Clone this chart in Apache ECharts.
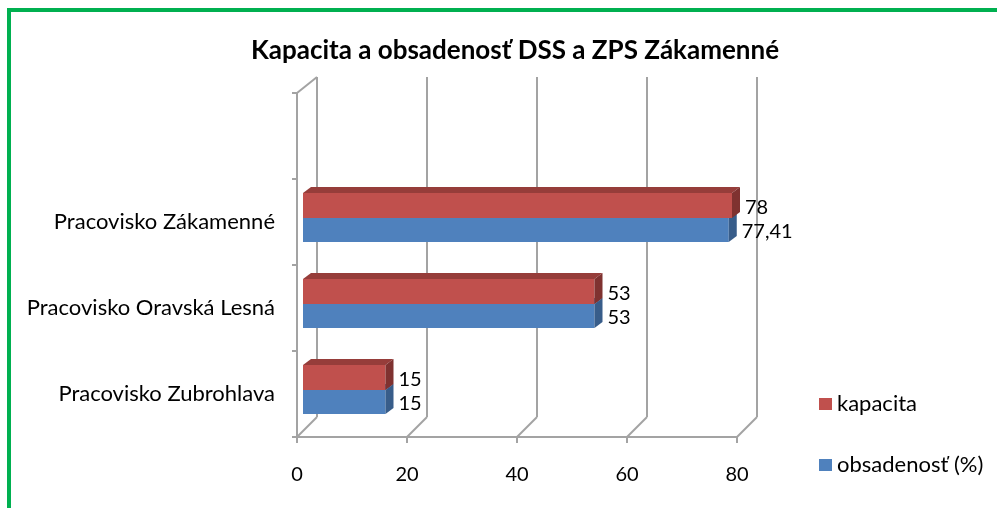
<!DOCTYPE html>
<html>
<head>
<meta charset="utf-8">
<title>Kapacita a obsadenosť</title>
<script src="https://cdn.jsdelivr.net/npm/echarts@6/dist/echarts.min.js"></script>
<style>
  html, body { margin: 0; padding: 0; background: #fff; }
  #chart { width: 997px; height: 508px; }
</style>
</head>
<body>
<div id="chart"></div>
<script>
// data (bottom to top)
var categories = ['Pracovisko Zubrohlava', 'Pracovisko Oravská Lesná', 'Pracovisko Zákamenné', ''];
var kapacita = [15, 53, 78];
var obsadenost = [15, 53, 77.41];
var xTicks = [0, 20, 40, 60, 80];

var FONT = 'Lato, "Noto Sans", sans-serif';
var GRID = '#a3a3a3';
var DEPTH_X = 20, DEPTH_FLOOR = 20, DEPTH_TOP = 16; // 3D back wall offset
var BAR_DX = 8, BAR_DY = 6;                          // bar depth
var BAR_SHIFT_X = 6, BAR_SHIFT_Y = -4;               // bars sit a bit inside the box

function fmt(v) { return String(v).replace('.', ','); }

function barRenderer(front, top, side, upper) {
    return function (params, api) {
        var idx = api.value(0);
        var val = api.value(1);
        var p0 = api.coord([0, idx]);
        var p1 = api.coord([val, idx]);
        var gc = p0[1] + BAR_SHIFT_Y;
        var y0 = upper ? gc - 25 : gc;
        var y1 = upper ? gc : gc + 24;
        var x0 = p0[0] + BAR_SHIFT_X;
        var x1 = p1[0] + BAR_SHIFT_X;
        return {
            type: 'group',
            children: [
                { type: 'polygon', shape: { points: [[x0, y0], [x1, y0], [x1 + BAR_DX, y0 - BAR_DY], [x0 + BAR_DX, y0 - BAR_DY]] }, style: { fill: top } },
                { type: 'rect', shape: { x: x0, y: y0, width: x1 - x0, height: y1 - y0 }, style: { fill: front } },
                { type: 'polygon', shape: { points: [[x1, y0], [x1 + BAR_DX, y0 - BAR_DY], [x1 + BAR_DX, y1 - BAR_DY], [x1, y1]] }, style: { fill: side } },
                { type: 'text', x: x1 + 13, y: (y0 + y1) / 2 + 2, style: { text: fmt(val), fill: '#000', font: '20px ' + FONT, align: 'left', verticalAlign: 'middle' } }
            ]
        };
    };
}

function toPairs(arr) { return arr.map(function (v, i) { return [i, v]; }); }

var myChart = echarts.init(document.getElementById('chart'));
myChart.setOption({
    animation: false,
    textStyle: { fontFamily: FONT },
    title: {
        text: 'Kapacita a obsadenosť DSS a ZPS Zákamenné',
        left: 510, top: 33, textAlign: 'center',
        textStyle: { fontFamily: FONT, fontWeight: 'bold', fontSize: 26, color: '#000' }
    },
    graphic: [{
        type: 'rect', silent: true, z: -10,
        shape: { x: 9, y: 10, width: 1200, height: 700 },
        style: { fill: 'none', stroke: '#00b050', lineWidth: 4 }
    }],
    legend: {
        data: ['kapacita', 'obsadenosť (%)'],
        orient: 'vertical', left: 814, top: 387,
        itemWidth: 13, itemHeight: 12, itemGap: 37, icon: 'rect',
        textStyle: { fontFamily: FONT, fontSize: 22, color: '#000', lineHeight: 24 }
    },
    grid: [
        { left: 297, right: 260, top: 93, bottom: 71 },
        { left: 317, right: 240, top: 77, bottom: 91 }
    ],
    xAxis: [
        {
            gridIndex: 0, type: 'value', min: 0, max: 80, interval: 20,
            axisLine: { show: true, lineStyle: { color: GRID, width: 2 } },
            axisTick: { show: true, length: 6, lineStyle: { color: GRID, width: 2 } },
            splitLine: { show: false },
            axisLabel: { margin: 28, fontSize: 20, color: '#000', fontFamily: FONT }
        },
        {
            gridIndex: 1, type: 'value', min: 0, max: 80, interval: 20,
            axisLine: { show: false }, axisTick: { show: false }, axisLabel: { show: false },
            splitLine: { show: true, lineStyle: { color: GRID, width: 2 } }
        }
    ],
    yAxis: [
        {
            gridIndex: 0, type: 'category', data: categories,
            axisLine: { show: true, lineStyle: { color: GRID, width: 2 } },
            axisTick: { show: true, length: 5, lineStyle: { color: GRID, width: 2 } },
            axisLabel: { margin: 22, fontSize: 22, color: '#000', fontFamily: FONT }
        },
        {
            gridIndex: 1, type: 'category', data: categories, show: false
        }
    ],
    series: [
        {
            // floor diagonals + top-left edge of the side wall
            type: 'custom', name: 'walls', xAxisIndex: 0, yAxisIndex: 0, silent: true, z: 1,
            data: xTicks.map(function (t) { return [t]; }),
            encode: { x: 0 },
            renderItem: function (params, api) {
                var cs = params.coordSys;
                var x = api.coord([api.value(0), 0])[0];
                var yb = cs.y + cs.height;
                var kids = [{ type: 'line', shape: { x1: x, y1: yb, x2: x + DEPTH_X, y2: yb - DEPTH_FLOOR }, style: { stroke: GRID, lineWidth: 2 } }];
                if (api.value(0) === 0) {
                    kids.push({ type: 'line', shape: { x1: x, y1: cs.y, x2: x + DEPTH_X, y2: cs.y - DEPTH_TOP }, style: { stroke: GRID, lineWidth: 2 } });
                }
                return { type: 'group', children: kids };
            }
        },
        {
            type: 'custom', name: 'obsadenosť (%)', xAxisIndex: 0, yAxisIndex: 0, z: 2,
            itemStyle: { color: '#4f81bd' },
            data: toPairs(obsadenost),
            encode: { x: 1, y: 0 },
            renderItem: barRenderer('#4f81bd', '#3e6898', '#385d8a', false)
        },
        {
            type: 'custom', name: 'kapacita', xAxisIndex: 0, yAxisIndex: 0, z: 3,
            itemStyle: { color: '#c0504d' },
            data: toPairs(kapacita),
            encode: { x: 1, y: 0 },
            renderItem: barRenderer('#c0504d', '#963d3a', '#7f3230', true)
        }
    ]
});
</script>
</body>
</html>
